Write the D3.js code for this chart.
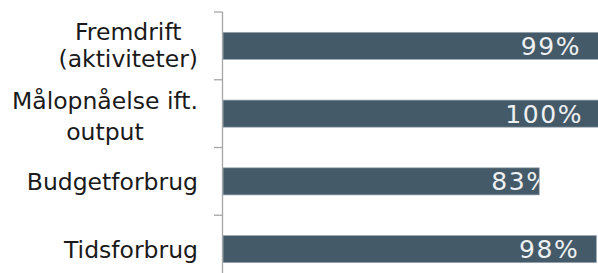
<!DOCTYPE html>
<html>
<head>
<meta charset="utf-8">
<script src="https://cdn.jsdelivr.net/npm/d3@7"></script>
<style>
  body { margin: 0; background: #fff; }
  svg { display: block; font-family: "DejaVu Sans", Verdana, sans-serif; }
</style>
</head>
<body>
<div id="chart"></div>
<script>
// data
const categories = ["Fremdrift\n(aktiviteter)", "Målopnåelse ift.\noutput", "Budgetforbrug", "Tidsforbrug"];
const values = [99, 100, 83, 98];
const valueLabels = ["99%", "100%", "83%", "98%"];

const width = 598, height = 273;

const svg = d3.select("#chart")
  .append("svg")
  .attr("width", width)
  .attr("height", height);

// scales
const x = d3.scaleLinear()
  .domain([0, 100])
  .range([223, 604]);

const y = d3.scaleBand()
  .domain(categories)
  .range([12, 283])
  .paddingInner(0.6)
  .paddingOuter(0.3);

// label positions run on their own, tighter scale (as in the original)
const labelX = d3.scaleLinear()
  .domain([0, 100])
  .range([x(0) + 176, x(100) - 21]);

// bars
const defs = svg.append("defs");
const bars = svg.append("g");

categories.forEach(function(c, i) {
  defs.append("clipPath")
    .attr("id", "clip" + i)
    .append("rect")
    .attr("x", x(0))
    .attr("y", y(c))
    .attr("width", x(values[i]) - x(0))
    .attr("height", y.bandwidth());
});

bars.selectAll("rect")
  .data(categories)
  .enter()
  .append("rect")
  .attr("x", x(0))
  .attr("y", d => y(d))
  .attr("width", (d, i) => x(values[i]) - x(0))
  .attr("height", y.bandwidth())
  .attr("fill", "#445a69")
  .attr("stroke", "#9aa8b2")
  .attr("stroke-width", 0.7);

// value labels, clipped to their bar
bars.selectAll("text")
  .data(categories)
  .enter()
  .append("text")
  .attr("clip-path", (d, i) => "url(#clip" + i + ")")
  .attr("x", (d, i) => labelX(values[i]))
  .attr("y", d => y(d) + y.bandwidth() / 2)
  .attr("dy", "0.36em")
  .attr("text-anchor", "end")
  .attr("fill", "#eef0f1")
  .style("font-size", "25px")
  .style("letter-spacing", "1.6px")
  .text((d, i) => valueLabels[i]);

// axis: line + ticks between the bands
const gap = (y.step() - y.bandwidth()) / 2;
const axis = svg.append("g").attr("stroke", "#a6a6a6").attr("stroke-width", 1.3);
axis.append("line")
  .attr("x1", x(0) - 0.5).attr("x2", x(0) - 0.5)
  .attr("y1", y(categories[0]) - gap)
  .attr("y2", height);
axis.selectAll(".tick")
  .data(categories)
  .enter()
  .append("line")
  .attr("class", "tick")
  .attr("x1", x(0) - 9).attr("x2", x(0) - 0.5)
  .attr("y1", d => y(d) - gap)
  .attr("y2", d => y(d) - gap);

// category labels (centred lines, block right-aligned next to the axis)
const labelRight = 198;
categories.forEach(function(c, i) {
  const lines = c.split("\n");
  // the second label is spread a bit wider in the original
  const lineH = i === 1 ? 31 : 27;
  const shift = lines.length < 2 ? 0 : (i === 1 ? 1.5 : -1);
  const t = svg.append("text")
    .attr("fill", "#1a1a1a")
    .style("font-size", "23.5px")
    .attr("text-anchor", "middle");
  const cy = y(c) + y.bandwidth() / 2;
  const spans = lines.map(function(l, j) {
    return t.append("tspan")
      .attr("y", cy + 9 + shift - (lines.length - 1) * lineH / 2 + j * lineH)
      .text(l);
  });
  const w = d3.max(spans, s => s.node().getComputedTextLength());
  spans.forEach(s => s.attr("x", labelRight - w / 2));
});
</script>
</body>
</html>
